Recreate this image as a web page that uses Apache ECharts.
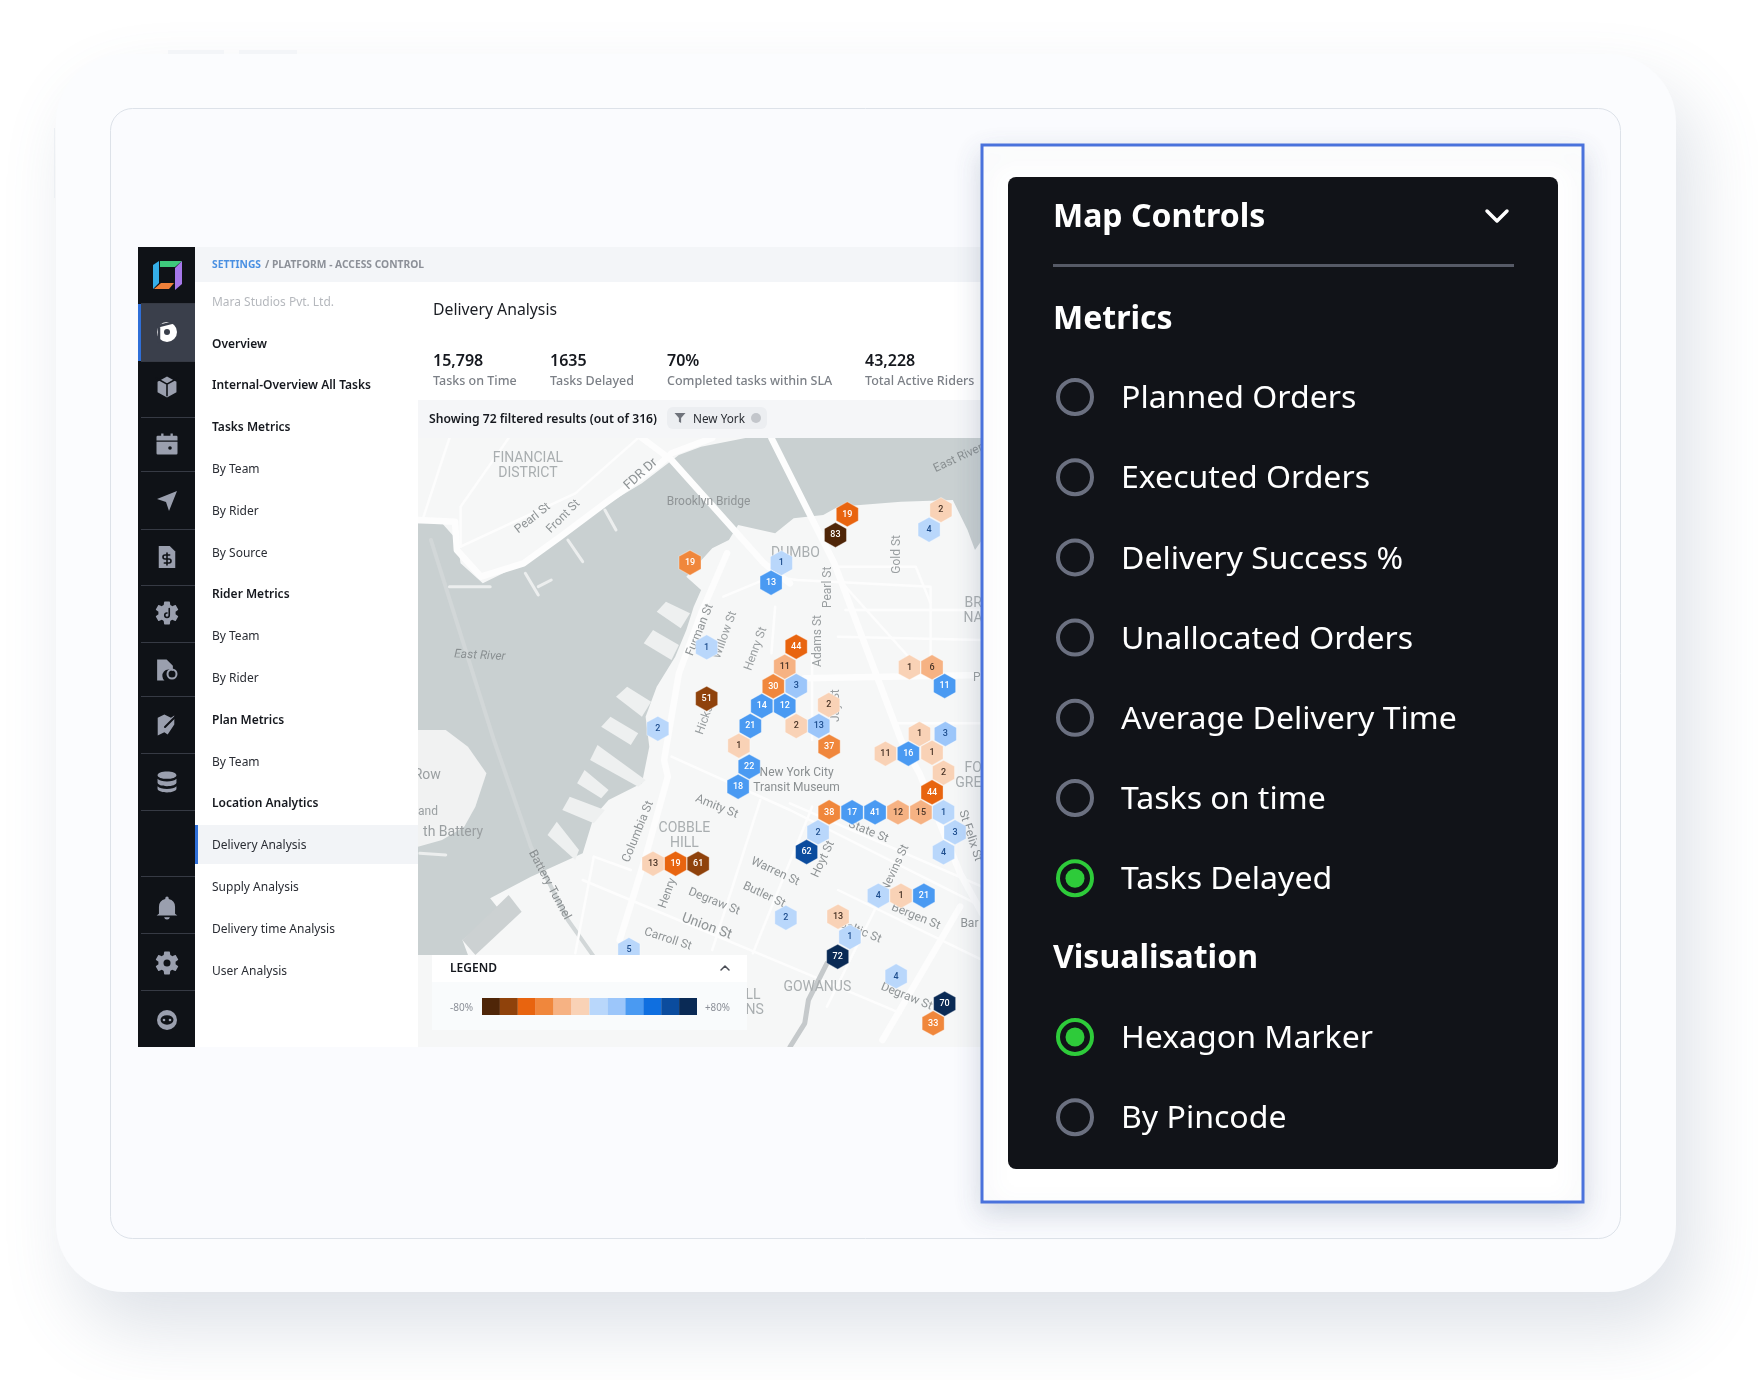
<!DOCTYPE html>
<html>
<head>
<meta charset="utf-8">
<title>Map Controls</title>
<script src="https://cdn.jsdelivr.net/npm/echarts@6/dist/echarts.min.js"></script>
<style>
  html, body { margin: 0; padding: 0; background: #fff; }
  #container { width: 1758px; height: 1380px; }
</style>
</head>
<body>
<div id="container"></div>
<script>
// hexagon markers, in map units
var hexX = [1155, 1123, 1408, 1376, 730, 977, 949, 775, 1017, 986, 955, 1017, 775, 924, 986, 893, 1017, 1105, 1078, 1106, 862, 643, 1323, 1384, 1418, 1350, 1420, 1258, 1320, 1384, 890, 860, 1415, 1384, 1106, 1168, 1230, 1292, 1354, 1415, 1076, 1446, 1415, 1045, 630, 691, 752, 1239, 1300, 1362, 989, 1130, 1162, 1129, 1287, 1418, 1387, 565];
var hexY = [223, 285, 210, 269, 368, 369, 428, 622, 620, 680, 739, 738, 776, 798, 798, 858, 858, 795, 858, 920, 917, 866, 682, 682, 738, 882, 882, 941, 941, 938, 980, 1040, 998, 1057, 1117, 1117, 1117, 1117, 1117, 1117, 1177, 1177, 1237, 1236, 1271, 1271, 1271, 1367, 1367, 1367, 1433, 1430, 1491, 1550, 1609, 1691, 1750, 1530];
var hexValues = [19, 83, 2, 4, 19, 1, 13, 1, 44, 11, 30, 3, 51, 14, 12, 21, 2, 2, 13, 37, 1, 2, 1, 6, 11, 1, 3, 11, 16, 1, 22, 18, 2, 44, 38, 17, 41, 12, 15, 1, 2, 3, 4, 62, 13, 19, 61, 4, 1, 21, 2, 13, 1, 72, 4, 70, 33, 5];
// index into legendColors
var hexShades = [2, 0, 5, 6, 3, 6, 8, 6, 2, 4, 3, 7, 1, 8, 8, 8, 5, 5, 7, 3, 5, 6, 5, 4, 8, 5, 7, 5, 8, 5, 8, 8, 5, 2, 3, 8, 8, 4, 4, 6, 6, 6, 6, 10, 5, 2, 1, 6, 5, 8, 6, 5, 6, 11, 6, 11, 3, 6];

var legendBins = [1, 2, 3, 4, 5, 6, 7, 8, 9, 10, 11, 12];
var legendFill = [1, 1, 1, 1, 1, 1, 1, 1, 1, 1, 1, 1];
var legendColors = ['#4f2608', '#8f420b', '#e8640f', '#f0873c', '#f6b283', '#f9d2b6', '#b9d7fb', '#9cc6fa', '#4a9af2', '#0f6fe0', '#0b4c9e', '#0a2a55'];

var navItems = ['Overview', 'Internal-Overview All Tasks', 'Tasks Metrics', 'By Team', 'By Rider', 'By Source', 'Rider Metrics', 'By Team', 'By Rider', 'Plan Metrics', 'By Team', 'Location Analytics', 'Delivery Analysis', 'Supply Analysis', 'Delivery time Analysis', 'User Analysis'];
var navHeads = ['Overview', 'Internal-Overview All Tasks', 'Tasks Metrics', 'Rider Metrics', 'Plan Metrics', 'Location Analytics'];
var statValues = ['15,798', '1635', '70%', '43,228'];
var statNames = ['Tasks on Time', 'Tasks Delayed', 'Completed tasks within SLA', 'Total Active Riders'];
var metricOptions = ['Planned Orders', 'Executed Orders', 'Delivery Success %', 'Unallocated Orders', 'Average Delivery Time', 'Tasks on time', 'Tasks Delayed'];
var visualOptions = ['Hexagon Marker', 'By Pincode'];

// map drawing, in the same map units as the markers
var waterShape = [[700, 45], [760, 20], [880, -6], [1519, -6], [1519, 300], [1500, 330], [1480, 270], [1440, 180], [1300, 185], [1130, 200], [1090, 225], [1010, 235], [960, 280], [860, 255], [835, 300], [790, 325], [720, 410], [760, 450], [740, 500], [720, 570], [690, 650], [640, 740], [610, 830], [620, 920], [600, 1030], [510, 1080], [470, 1130], [440, 1240], [300, 1310], [190, 1375], [215, 1410], [115, 1500], [130, 1545], [-5, 1545], [-5, 250], [60, 250], [100, 300], [110, 370], [170, 430], [280, 370], [380, 290], [480, 210], [600, 130]];
var islandShape = [[-5, 870], [70, 870], [130, 920], [180, 1000], [150, 1100], [120, 1160], [60, 1200], [-5, 1220]];
var basinShape = [[115, 1500], [240, 1365], [275, 1415], [150, 1545]];
var pierShapes = [
  [[640, 515], [665, 485], [730, 520], [705, 565]],
  [[605, 610], [630, 570], [700, 615], [680, 660]],
  [[530, 770], [560, 740], [625, 785], [600, 830]],
  [[490, 860], [515, 830], [590, 880], [570, 915]],
  [[460, 960], [480, 915], [610, 1020], [590, 1040]],
  [[425, 1030], [445, 990], [510, 1050], [490, 1075]],
  [[385, 1110], [405, 1070], [500, 1110], [470, 1150]],
  [[345, 1185], [370, 1145], [430, 1230], [420, 1260]]
];
var manhattanPiers = [
  [[500, 210], [530, 270]],
  [[400, 300], [440, 365]],
  [[285, 400], [320, 465]],
  [[320, 440], [355, 420]],
  [[80, 440], [190, 440]],
  [[0, 1240], [70, 1245]]
];
var majorRoads = [
  [[-5, 240], [95, 245], [100, 330], [165, 410], [280, 370], [380, 290], [500, 190], [650, 70], [680, 40], [790, -6]],
  [[600, -6], [680, 60], [930, 370], [1000, 430]],
  [[950, -6], [1120, 370], [1300, 900], [1350, 1000], [1460, 1300], [1519, 1420]],
  [[830, 340], [760, 520], [700, 700], [660, 960], [670, 1010], [610, 1250], [540, 1500]],
  [[1040, 715], [1519, 705]],
  [[1460, 1400], [1250, 1800]]
];
var minorRoads = [
  [[80, -6], [10, 230]],
  [[240, -6], [110, 200], [110, 320]],
  [[110, 320], [420, 160], [590, -6]],
  [[820, 470], [950, 410], [1020, 420], [1380, 440], [1380, 700]],
  [[960, 500], [950, 640]],
  [[1060, 640], [1060, 900]],
  [[1130, 380], [1340, 380], [1380, 490]],
  [[1150, 510], [1519, 510]],
  [[1150, 440], [1320, 650]],
  [[1280, 850], [1519, 850]],
  [[1130, 590], [1519, 600]],
  [[680, 950], [1000, 1110], [1519, 1400]],
  [[1000, 1090], [1519, 1340]],
  [[470, 1250], [570, 1290]],
  [[440, 1320], [1000, 1580], [1300, 1720]],
  [[920, 1080], [790, 1530]],
  [[1060, 1100], [900, 1540]],
  [[1300, 1250], [1100, 1700]],
  [[470, 1250], [420, 1540]],
  [[1130, 1350], [1519, 1560]]
];
var tunnelLine = [[30, 300], [200, 900], [300, 1220], [400, 1440], [470, 1550]];
var canalLine = [[1100, 1570], [1050, 1680], [1040, 1750], [1000, 1821]];

// name, x, y, rotation in degrees, size, colour
var mapLabels = [
  ['FINANCIAL', 292, 55, 0, 14, '#a9aeb0'], ['DISTRICT', 292, 100, 0, 14, '#a9aeb0'],
  ['Pearl St', 305, 235, 38, 12, '#8f9496'], ['Front St', 388, 230, 45, 12, '#8f9496'],
  ['FDR Dr', 597, 103, 42, 13, '#8f9496'], ['Brooklyn Bridge', 780, 187, 0, 12, '#8f9496'],
  ['East River', 1455, 55, 25, 12, '#8a9092'], ['DUMBO', 1015, 340, 0, 14, '#a9aeb0'],
  ['Gold St', 1290, 343, 90, 12, '#9a9fa1'], ['Pearl St', 1102, 442, 90, 12, '#9a9fa1'],
  ['BR', 1495, 490, 0, 14, '#a9aeb0'], ['NA', 1495, 535, 0, 14, '#a9aeb0'],
  ['Furman St', 757, 570, 68, 12, '#8f9496'], ['Willow St', 825, 585, 70, 12, '#9a9fa1'],
  ['Henry St', 908, 627, 70, 12, '#9a9fa1'], ['Adams St', 1075, 603, 90, 12, '#9a9fa1'],
  ['Jay St', 1125, 797, 90, 12, '#9a9fa1'], ['Hicks', 770, 840, 70, 12, '#9a9fa1'],
  ['P', 1505, 715, 0, 12, '#9a9fa1'], ['Row', 20, 1005, 0, 14, '#9a9fa1'],
  ['and', 22, 1115, 0, 12, '#9a9fa1'], ['th Battery', 90, 1177, 0, 14, '#9a9fa1'],
  ['FO', 1495, 985, 0, 14, '#a9aeb0'], ['GRE', 1482, 1030, 0, 14, '#a9aeb0'],
  ['New York City', 1018, 1000, 0, 12, '#8a8f91'], ['Transit Museum', 1018, 1045, 0, 12, '#8a8f91'],
  ['Amity St', 802, 1100, -22, 12, '#8f9496'], ['State St', 1212, 1175, -22, 12, '#8f9496'],
  ['Columbia St', 590, 1175, 68, 12, '#8f9496'], ['COBBLE', 715, 1165, 0, 14, '#a9aeb0'],
  ['HILL', 715, 1210, 0, 14, '#a9aeb0'], ['St Felix St', 1487, 1187, -72, 12, '#8f9496'],
  ['Hoyt St', 1090, 1258, 65, 12, '#8f9496'], ['Nevins St', 1285, 1285, 65, 12, '#8f9496'],
  ['Warren St', 960, 1295, -25, 12, '#8f9496'], ['Butler St', 930, 1365, -25, 12, '#8f9496'],
  ['Bergen St', 1340, 1430, -22, 12, '#8f9496'], ['Henry', 670, 1360, 70, 12, '#8f9496'],
  ['Degraw St', 795, 1385, -22, 12, '#8f9496'], ['Union St', 775, 1460, -20, 14, '#8f9496'],
  ['Carroll St', 670, 1498, -18, 12, '#8f9496'], ['Baltic St', 1190, 1475, -22, 12, '#8f9496'],
  ['Battery Tunnel', 350, 1335, -62, 12, '#8a8f91'], ['Bar', 1485, 1452, 0, 12, '#8f9496'],
  ['GOWANUS', 1074, 1643, 0, 14, '#a9aeb0'], ['Degraw St', 1315, 1670, -22, 12, '#8f9496'],
  ['LL', 900, 1665, 0, 14, '#a9aeb0'], ['NS', 905, 1710, 0, 14, '#a9aeb0']
];
var riverLabel = ['East River', 162, 647, -3];

var UI_FONT = '"Noto Sans", sans-serif';
var MAP_FONT = 'Roboto, sans-serif';
var measureCtx = document.createElement('canvas').getContext('2d');
var iconList = [];

function textEl(text, x, y, size, weight, color, opts) {
    opts = opts || {};
    var font = weight + ' ' + size + 'px ' + UI_FONT;
    var sx = 1;
    if (opts.width) {
        measureCtx.font = font;
        sx = opts.width / measureCtx.measureText(text).width;
    }
    return {
        type: 'text', x: x, y: y + size * 0.09, z: opts.z || 3, scaleX: sx, silent: true,
        style: { text: text, fill: color, font: font, align: opts.align || 'left', verticalAlign: 'middle' }
    };
}

function rectEl(x, y, w, h, fill, opts) {
    opts = opts || {};
    var style = { fill: fill };
    if (opts.stroke) { style.stroke = opts.stroke; style.lineWidth = opts.lineWidth || 1; }
    if (opts.shadow) {
        style.shadowBlur = opts.shadow[0];
        style.shadowOffsetX = opts.shadow[3] || 0;
        style.shadowOffsetY = opts.shadow[1];
        style.shadowColor = opts.shadow[2];
    }
    return {
        type: 'rect', z: opts.z || 1, silent: true,
        shape: { x: x, y: y, width: w, height: h, r: opts.r || 0 },
        style: style
    };
}

// icons go through a custom series, the graphic component has no path type
function addIcon(d, cx, cy, size, fill, stroke, lw) {
    iconList.push({ d: d, cx: cx, cy: cy, size: size, fill: fill || 'none', stroke: stroke || 'none', lw: lw || 0 });
}

function polyEl(points, fill) {
    return { type: 'polygon', z: 3, silent: true, shape: { points: points }, style: { fill: fill } };
}

function chevronEl(points, color, lw, z) {
    return {
        type: 'polyline', z: z, silent: true, shape: { points: points },
        style: { fill: 'none', stroke: color, lineWidth: lw, lineCap: 'round', lineJoin: 'round' }
    };
}

function circleEl(cx, cy, r, fill, stroke, lw, z) {
    return {
        type: 'circle', z: z || 3, silent: true,
        shape: { cx: cx, cy: cy, r: r },
        style: { fill: fill || 'none', stroke: stroke || 'none', lineWidth: lw || 0 }
    };
}

var ICON = '#9a9fae';
var DARK = '#0f1217';
var GEAR = 'M19.14 12.94c.04-.3.06-.61.06-.94 0-.32-.02-.64-.07-.94l2.03-1.58c.18-.14.23-.41.12-.61l-1.92-3.32c-.12-.22-.37-.29-.59-.22l-2.39.96c-.5-.38-1.03-.7-1.62-.94l-.36-2.54c-.04-.24-.24-.41-.48-.41h-3.84c-.24 0-.43.17-.47.41l-.36 2.54c-.59.24-1.13.57-1.62.94l-2.39-.96c-.22-.08-.47 0-.59.22L2.74 8.87c-.12.21-.08.47.12.61l2.03 1.58c-.05.3-.09.63-.09.94s.02.64.07.94l-2.03 1.58c-.18.14-.23.41-.12.61l1.92 3.32c.12.22.37.29.59.22l2.39-.96c.5.38 1.03.7 1.62.94l.36 2.54c.05.24.24.41.48.41h3.84c.24 0 .44-.17.47-.41l.36-2.54c.59-.24 1.13-.56 1.62-.94l2.39.96c.22.08.47 0 .59-.22l1.92-3.32c.12-.22.07-.47-.12-.61l-2.01-1.58z';

function buildSidebar() {
    var els = [];
    els.push(rectEl(138, 247, 57, 800, DARK, { z: 2 }));
    // row separators
    [303, 361, 417, 471, 529, 585, 642, 696, 753, 810, 876, 933, 990].forEach(function (y) {
        els.push(rectEl(141, y, 54, 1, '#363a44', { z: 2 }));
    });
    els.push(rectEl(138, 304, 57, 57, '#3a3f4b', { z: 2 }));
    els.push(rectEl(138, 304, 3, 57, '#2f6fd8', { z: 2 }));

    // logo
    els.push(polyEl([[153, 265], [159, 261], [159, 283], [153, 289]], '#35aee8'));
    els.push(polyEl([[160, 261], [182, 261], [175, 267], [160, 267]], '#3ec97c'));
    els.push(polyEl([[175, 268], [182, 261], [182, 284], [175, 290]], '#a678ea'));
    els.push(polyEl([[161, 283], [174, 283], [169, 289], [154, 289]], '#f0813a'));

    // active donut
    els.push(circleEl(167, 332, 10, '#ffffff'));
    addIcon('M12 12L12 24 M12 12L24 9', 167, 332, 20, null, '#3a3f4b', 2.5);
    els.push(circleEl(167, 332, 3, '#3a3f4b', null, 0, 6));
    // cube
    addIcon('M12 2l9 5v10l-9 5-9-5V7z', 167, 387, 21, ICON);
    addIcon('M3 7l9 5 9-5 M12 12v10', 167, 387, 21, null, DARK, 1.6);
    // calendar
    addIcon('M4 5h3V3h2v2h6V3h2v2h3a1 1 0 0 1 1 1v3H3V6a1 1 0 0 1 1-1z M3 10h18v10a1 1 0 0 1-1 1H4a1 1 0 0 1-1-1z', 167, 444, 21, ICON);
    els.push(circleEl(170, 448, 1.8, DARK, null, 0, 6));
    // navigation
    addIcon('M22 2L2 10l9 3 3 9z', 167, 501, 20, ICON);
    // invoice
    addIcon('M5 2h10l5 5v15H5z', 167, 557, 22, ICON);
    addIcon('M14 10H10.5a1.5 1.5 0 0 0 0 3h3a1.5 1.5 0 0 1 0 3H10 M12 8.5v9', 167, 559, 12, null, DARK, 1.6);
    // gear with note
    addIcon(GEAR, 167, 613, 23, ICON);
    addIcon('M12 9v6a2 2 0 1 1-2-2', 167, 613, 9, null, DARK, 1.6);
    // file with clock
    addIcon('M5 2h9l6 6v5a6 6 0 0 0-8 9H5z', 165, 670, 21, ICON);
    els.push(circleEl(172, 674, 4.5, 'none', ICON, 2, 6));
    // map edit
    addIcon('M3 6l6-3 6 3 3-2v8l-6 9-3-2-6 3z', 166, 725, 21, ICON);
    addIcon('M4 20L20 4', 170, 722, 10, null, DARK, 2);
    // database
    addIcon('M12 2c5 0 9 1.5 9 3.5S17 9 12 9 3 7.5 3 5.5 7 2 12 2z M3 9c1.5 1.8 5 2.6 9 2.6S19.5 10.8 21 9v3.5c0 2-4 3.5-9 3.5S3 14.5 3 12.5z M3 16c1.5 1.8 5 2.6 9 2.6s7.5-.8 9-2.6v2.5c0 2-4 3.5-9 3.5s-9-1.5-9-3.5z', 167, 782, 21, ICON);
    // bell
    addIcon('M12 22a2.5 2.5 0 0 0 2.5-2h-5A2.5 2.5 0 0 0 12 22z M19 17V11a7 7 0 0 0-5.5-6.8V3.5a1.5 1.5 0 0 0-3 0v.7A7 7 0 0 0 5 11v6l-2 1.5h18z', 167, 908, 23, ICON);
    // settings
    addIcon(GEAR, 167, 963, 23, ICON);
    els.push(circleEl(167, 963, 3.5, DARK, null, 0, 6));
    // support
    els.push(circleEl(167, 1020, 10, ICON));
    addIcon('M3 12a9 6 0 0 1 18 0a9 7 0 0 1-18 0z', 167, 1020, 13, DARK);
    els.push(circleEl(164, 1020, 1.3, ICON, null, 0, 6));
    els.push(circleEl(170, 1020, 1.3, ICON, null, 0, 6));
    return els;
}

function buildNav() {
    var els = [];
    els.push(rectEl(195, 282, 223, 765, '#ffffff', { z: 1 }));
    els.push(rectEl(195, 247, 787, 35, '#f3f5f8', { z: 1 }));
    els.push(rectEl(418, 282, 564, 118, '#ffffff', { z: 1 }));
    els.push(rectEl(418, 400, 564, 38, '#f5f6f8', { z: 1 }));
    els.push(rectEl(418, 438, 564, 609, '#f6f7f7', { z: 2 }));
    els.push(textEl('SETTINGS', 212, 264, 11, 700, '#4a90e2', { width: 49 }));
    els.push(textEl('/ PLATFORM - ACCESS CONTROL', 265, 264, 11, 700, '#8c9098', { width: 159 }));
    els.push(textEl('Mara Studios Pvt. Ltd.', 212, 301, 12.5, 400, '#b5b8bd', { width: 122 }));
    els.push(rectEl(195, 825, 223, 39, '#f2f4f7', { z: 2 }));
    els.push(rectEl(195, 825, 3, 39, '#2f6fd8', { z: 2 }));
    navItems.forEach(function (name, i) {
        var head = navHeads.indexOf(name) >= 0;
        els.push(textEl(name, 212, 343 + i * 41.8, 12, head ? 600 : 400, head ? '#15181e' : '#2a2d34'));
    });
    return els;
}

function buildStats() {
    var els = [];
    var statX = [433, 550, 667, 865];
    els.push(textEl('Delivery Analysis', 433, 309, 16, 400, '#1a1d23', { width: 124 }));
    statValues.forEach(function (v, i) {
        els.push(textEl(v, statX[i], 360, 16, 600, '#15181e'));
        els.push(textEl(statNames[i], statX[i], 380, 12.5, 500, '#7c8087'));
    });
    els.push(textEl('Showing 72 filtered results (out of 316)', 429, 418, 12.5, 600, '#15181e', { width: 228 }));
    els.push(rectEl(667, 407, 100, 22, '#eceef1', { r: 6, z: 2 }));
    addIcon('M2 3h20l-8 9v9l-4-2v-7z', 680, 418, 11, '#6f737b');
    els.push(textEl('New York', 693, 418, 12.5, 400, '#2a2d33', { width: 52 }));
    els.push(circleEl(756, 418, 5, '#c3c6cb'));
    return els;
}

function buildPanel() {
    var els = [];
    els.push(rectEl(982, 145, 601, 1057, '#ffffff', { stroke: '#4a72dc', lineWidth: 3, z: 7, shadow: [26, 10, 'rgba(80,100,130,0.22)'] }));
    els.push(rectEl(1008, 177, 550, 992, '#111318', { r: 8, z: 8 }));
    els.push(textEl('Map Controls', 1053, 215, 32, 700, '#ffffff', { z: 9 }));
    els.push(chevronEl([[1487, 211], [1497, 221], [1507, 211]], '#ffffff', 3.5, 9));
    els.push(rectEl(1053, 264, 461, 3, '#565a66', { z: 9 }));
    els.push(textEl('Metrics', 1053, 317, 32, 700, '#ffffff', { z: 9 }));
    els.push(textEl('Visualisation', 1053, 956, 32, 700, '#ffffff', { z: 9 }));

    function radio(name, y, on) {
        els.push(circleEl(1075, y, 17, 'none', on ? '#2ecb3a' : '#6b7080', 4, 9));
        if (on) els.push(circleEl(1075, y, 9.5, '#2ecb3a', null, 0, 9));
        var item = textEl(name, 1121, y, 30, 400, '#ffffff', { z: 9 });
        item.scaleX = 1.068;
        els.push(item);
    }
    metricOptions.forEach(function (name, i) {
        radio(name, 397 + i * 80.2, name === 'Tasks Delayed');
    });
    visualOptions.forEach(function (name, i) {
        radio(name, 1037 + i * 80.2, name === 'Hexagon Marker');
    });
    return els;
}

function buildLegend() {
    var els = [];
    els.push(rectEl(432, 955, 315, 27, '#ffffff', { z: 10 }));
    els.push(rectEl(432, 982, 315, 48, 'rgba(250,251,252,0.9)', { z: 10 }));
    els.push(textEl('LEGEND', 450, 967, 12, 600, '#15181e', { z: 11 }));
    els.push(chevronEl([[721, 970], [725, 966], [729, 970]], '#4a4d55', 1.5, 11));
    els.push(textEl('-80%', 450, 1007, 11, 400, '#8c9098', { z: 11, width: 23 }));
    els.push(textEl('+80%', 705, 1007, 11, 400, '#8c9098', { z: 11, width: 25 }));
    return els;
}

function buildFrame() {
    var els = [];
    els.push(rectEl(56, 54, 1620, 1238, '#fbfcfe', { r: 68, shadow: [70, 36, 'rgba(90,110,140,0.20)', 18] }));
    els.push(rectEl(168, 50, 56, 4, '#f3f5f8'));
    els.push(rectEl(239, 50, 58, 4, '#f3f5f8'));
    els.push(rectEl(54, 128, 1, 70, '#eceff3'));
    els.push(rectEl(110.5, 108.5, 1510, 1130, '#fafbfe', { r: 22, stroke: '#dde2e9', lineWidth: 1 }));
    return els;
}

// map shapes: [points, kind, colour, line width]
function collectShapes() {
    var list = [[waterShape, 'fill', '#c9d0d1'], [islandShape, 'fill', '#f1f2f2'], [basinShape, 'fill', '#ccd1d2']];
    pierShapes.forEach(function (p) { list.push([p, 'fill', '#eef0f0']); });
    list.push([tunnelLine, 'line', '#d2d7d8', 4]);
    manhattanPiers.forEach(function (p) { list.push([p, 'line', '#eceeee', 3]); });
    minorRoads.forEach(function (p) { list.push([p, 'line', '#fdfdfd', 2.5]); });
    majorRoads.forEach(function (p) { list.push([p, 'line', '#fdfdfd', 6.5]); });
    list.push([canalLine, 'line', '#c5c9cb', 5]);
    return list;
}

var mapShapes = collectShapes();

function renderShape(params, api) {
    var s = mapShapes[params.dataIndex];
    var pts = s[0].map(function (p) { return api.coord(p); });
    if (s[1] === 'fill') {
        return { type: 'polygon', shape: { points: pts }, style: { fill: s[2] } };
    }
    return {
        type: 'polyline', shape: { points: pts },
        style: { fill: 'none', stroke: s[2], lineWidth: s[3], lineJoin: 'round', lineCap: 'round' }
    };
}

function renderLabel(params, api) {
    var l = mapLabels[params.dataIndex];
    var p = api.coord([l[1], l[2]]);
    return {
        type: 'text', x: p[0], y: p[1], rotation: l[3] * Math.PI / 180,
        style: { text: l[0], fill: l[5], font: l[4] + 'px ' + MAP_FONT, align: 'center', verticalAlign: 'middle' }
    };
}

function renderRiver(params, api) {
    var p = api.coord([riverLabel[1], riverLabel[2]]);
    return {
        type: 'text', x: p[0], y: p[1], rotation: riverLabel[3] * Math.PI / 180,
        style: { text: riverLabel[0], fill: '#8a9092', font: 'italic 12px ' + MAP_FONT, align: 'center', verticalAlign: 'middle' }
    };
}

function renderIcon(params) {
    var ic = iconList[params.dataIndex];
    return {
        type: 'path',
        shape: { pathData: ic.d, layout: 'center', x: ic.cx - ic.size / 2, y: ic.cy - ic.size / 2, width: ic.size, height: ic.size },
        style: { fill: ic.fill, stroke: ic.stroke, lineWidth: ic.lw, lineCap: 'round' }
    };
}

var hexData = hexX.map(function (x, i) {
    return {
        value: [x, hexY[i], hexValues[i]],
        itemStyle: { color: legendColors[hexShades[i]] },
        label: { color: hexShades[i] === 5 || hexShades[i] === 4 ? '#4a3528' : (hexShades[i] === 6 || hexShades[i] === 7 ? '#1f4f8f' : '#ffffff') }
    };
});

var elements = [].concat(buildFrame(), buildSidebar(), buildNav(), buildStats(), buildPanel(), buildLegend());

var dom = document.getElementById('container');
var myChart = echarts.init(dom);
var option = {
    animation: false,
    backgroundColor: '#ffffff',
    graphic: { elements: elements },
    grid: [
        { left: 418, top: 438, width: 564, height: 609 },
        { left: 482, top: 998, width: 215, height: 17 }
    ],
    xAxis: [
        { type: 'value', gridIndex: 0, min: -5, max: 1519, show: false },
        { type: 'category', gridIndex: 1, data: legendBins, show: false }
    ],
    yAxis: [
        { type: 'value', gridIndex: 0, min: -6, max: 1821, inverse: true, show: false },
        { type: 'value', gridIndex: 1, min: 0, max: 1, show: false }
    ],
    series: [
        {
            type: 'custom', xAxisIndex: 0, yAxisIndex: 0, z: 3, silent: true, clip: true,
            renderItem: renderShape,
            data: mapShapes.map(function (s, i) { return [i]; })
        },
        {
            type: 'custom', xAxisIndex: 0, yAxisIndex: 0, z: 3, silent: true, clip: true,
            renderItem: renderLabel,
            data: mapLabels.map(function (s, i) { return [i]; })
        },
        {
            type: 'custom', xAxisIndex: 0, yAxisIndex: 0, z: 3, silent: true, clip: true,
            renderItem: renderRiver,
            data: [[0]]
        },
        {
            type: 'custom', coordinateSystem: 'none', z: 4, silent: true,
            renderItem: renderIcon,
            data: iconList.map(function (s, i) { return [i]; })
        },
        {
            type: 'scatter', xAxisIndex: 0, yAxisIndex: 0, z: 5,
            symbol: 'path://M50 0L100 28L100 86L50 114L0 86L0 28Z',
            symbolSize: [22, 25],
            symbolKeepAspect: false,
            itemStyle: { opacity: 1, borderColor: 'rgba(255,255,255,0.35)', borderWidth: 1 },
            label: {
                show: true, position: 'inside', fontSize: 9, fontFamily: 'Roboto, sans-serif', fontWeight: 500,
                formatter: function (p) { return p.value[2]; }
            },
            data: hexData
        },
        {
            type: 'bar', xAxisIndex: 1, yAxisIndex: 1, z: 12, barWidth: '100%',
            data: legendFill.map(function (v, i) {
                return { value: v, itemStyle: { color: legendColors[i] } };
            })
        }
    ]
};
myChart.setOption(option, true);
</script>
</body>
</html>
